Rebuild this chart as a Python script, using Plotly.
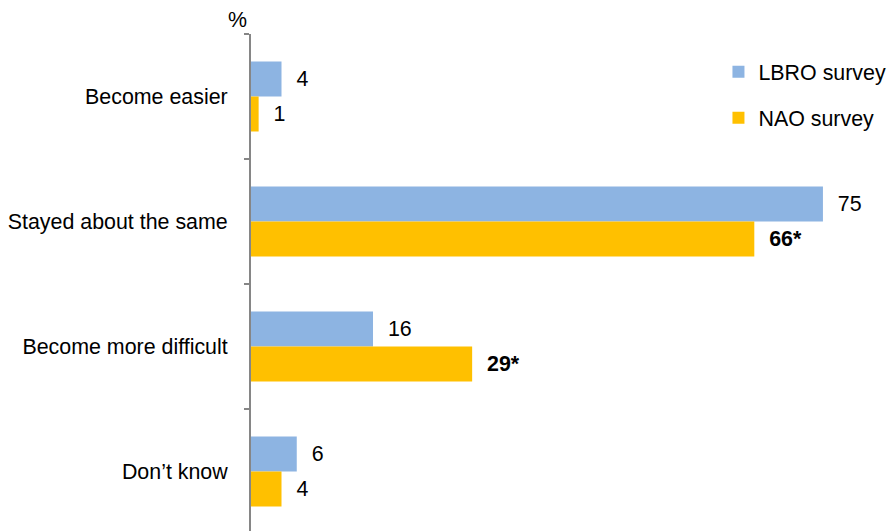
import plotly.graph_objects as go

# Survey responses (%)
categories = ["Become easier", "Stayed about the same", "Become more difficult", "Don\u2019t know"]
lbro_values = [4, 75, 16, 6]
nao_values = [1, 66, 29, 4]
# Asterisk marks a statistically significant difference
nao_significant = [False, True, True, False]

BLUE = "#8DB4E2"
GOLD = "#FFC000"
FONT = "Liberation Sans, Arial, sans-serif"
FS = 21.4
PAD = "\u00a0\u00a0"

lbro_text = [f"{PAD}{v}" for v in lbro_values]
nao_text = [f"{PAD}<b>{v}*</b>" if s else f"{PAD}{v}" for v, s in zip(nao_values, nao_significant)]

fig = go.Figure()
fig.add_trace(go.Bar(
    y=categories, x=lbro_values, orientation="h", name="LBRO survey",
    marker=dict(color=BLUE, line=dict(width=0)),
    text=lbro_text, textposition="outside", constraintext="none",
    textfont=dict(family=FONT, size=FS, color="#000000"),
    cliponaxis=False, legendgroup="a",
))
fig.add_trace(go.Bar(
    y=categories, x=nao_values, orientation="h", name="NAO survey",
    marker=dict(color=GOLD, line=dict(width=0)),
    text=nao_text, textposition="outside", constraintext="none",
    textfont=dict(family=FONT, size=FS, color="#000000"),
    cliponaxis=False, legendgroup="b",
))

fig.update_layout(
    width=887, height=531,
    margin=dict(l=251, r=0, t=34, b=0, autoexpand=False),
    paper_bgcolor="white", plot_bgcolor="white",
    barmode="group", bargap=0.44, bargroupgap=0,
    font=dict(family=FONT, size=FS, color="#000000"),
    xaxis=dict(range=[0, 83.4], showgrid=False, zeroline=False,
               showline=False, showticklabels=False, ticks=""),
    yaxis=dict(range=[3.476, -0.5], showgrid=False, zeroline=False,
               showline=True, linecolor="#868686", linewidth=2,
               ticks="outside", ticklen=5, tickwidth=2, tickcolor="#868686",
               tickson="boundaries", ticklabelstandoff=17,
               tickfont=dict(family=FONT, size=FS, color="#000000")),
    legend=dict(x=0.735, xanchor="left", y=0.965, yanchor="top",
                tracegroupgap=15, bgcolor="rgba(0,0,0,0)",
                font=dict(family=FONT, size=FS, color="#000000")),
    showlegend=True,
)

fig.add_annotation(text="%", xref="paper", yref="paper", x=-0.022, y=1.0,
                   xanchor="center", yanchor="bottom", yshift=0, showarrow=False,
                   font=dict(family=FONT, size=FS, color="#000000"))

fig.write_html("out.html")
